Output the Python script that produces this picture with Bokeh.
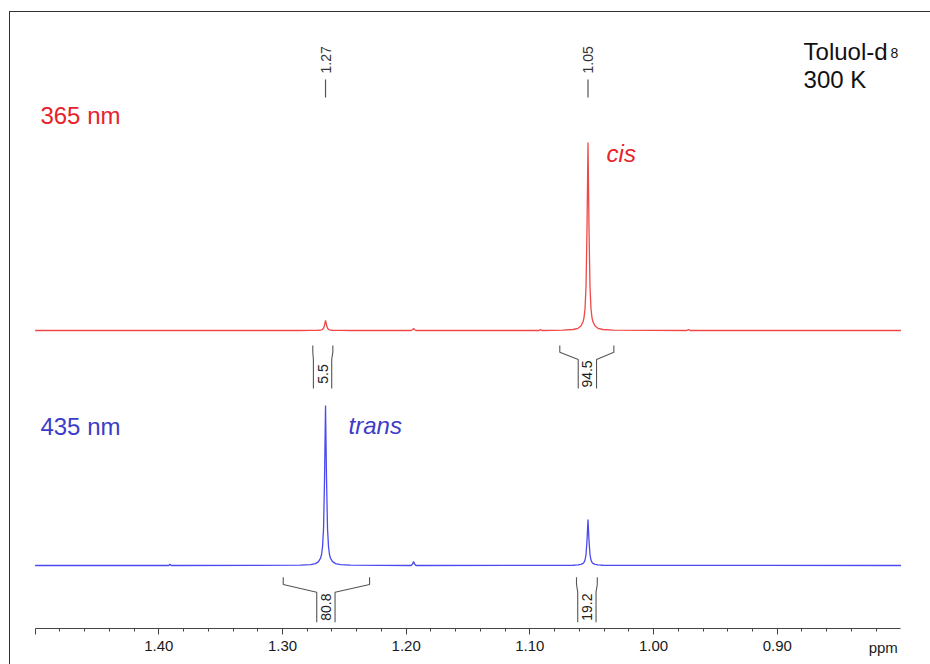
import numpy as np
from bokeh.plotting import figure
from bokeh.models import Range1d, FixedTicker
from bokeh.core.properties import value
from bokeh.embed import file_html
from bokeh.resources import INLINE

# ---------------- data ----------------
# chemical shift axis (ppm)
major_ticks = [1.50, 1.40, 1.30, 1.20, 1.10, 1.00, 0.90]
tick_labels = ["", "1.40", "1.30", "1.20", "1.10", "1.00", "0.90"]
minor_ticks = [1.48, 1.46, 1.44, 1.42, 1.38, 1.36, 1.34, 1.32, 1.28, 1.26, 1.24, 1.22,
               1.18, 1.16, 1.14, 1.12, 1.08, 1.06, 1.04, 1.02, 0.98, 0.96, 0.94, 0.92,
               0.88, 0.86, 0.84, 0.82]
axis_unit = "ppm"

# peak profile points (ppm) around the trans (1.27) and cis (1.05) signals
trans_ppm = [1.2854, 1.2773, 1.2733, 1.2709, 1.2692, 1.2684, 1.2676, 1.2668, 1.2660, 1.2652,
             1.2644, 1.2636, 1.2628, 1.2620, 1.2612, 1.2595, 1.2571, 1.2531, 1.2450]
cis_ppm = [1.0732, 1.0651, 1.0611, 1.0587, 1.0570, 1.0562, 1.0554, 1.0546, 1.0538, 1.0530,
           1.0522, 1.0514, 1.0506, 1.0498, 1.0490, 1.0473, 1.0449, 1.0409, 1.0328]

# 365 nm spectrum (red)
red_trans_int = [0, 0.1, 0.15, 0.25, 0.45, 0.7, 1.2, 2.3, 5.5, 10,
                 5.5, 2.3, 1.2, 0.7, 0.45, 0.25, 0.15, 0.1, 0]
red_cis_int = [0.4, 1.0, 2.2, 4.6, 8.7, 13, 22, 44, 103, 188,
               103, 44, 22, 13, 8.7, 4.6, 2.2, 1.0, 0.4]
red_other_ppm = [1.50, 1.1960, 1.1948, 1.1940, 1.1932, 1.1920, 1.0925, 1.0914, 1.0903,
                 0.9730, 0.9718, 0.9706, 0.80]
red_other_int = [0, 0, 0.8, 2.0, 0.8, 0, 0, 1.0, 0, 0, 1.0, 0, 0]

# 435 nm spectrum (blue)
blue_trans_int = [0.3, 0.85, 1.9, 3.9, 7.4, 11, 19, 37, 87, 160,
                  87, 37, 19, 11, 7.4, 3.9, 1.9, 0.85, 0.3]
blue_cis_int = [0.1, 0.25, 0.55, 1.1, 2.1, 3.2, 5.5, 11, 25, 46,
                25, 11, 5.5, 3.2, 2.1, 1.1, 0.55, 0.25, 0.1]
blue_other_ppm = [1.50, 1.3920, 1.3910, 1.3900, 1.1960, 1.1948, 1.1940, 1.1932, 1.1920, 0.80]
blue_other_int = [0, 0, 1.2, 0, 0, 1.5, 4.0, 1.5, 0, 0]

# peak picking labels
peak_ppm = [1.2652, 1.0530]
peak_labels = ["1.27", "1.05"]

# integrals
red_int_from = [1.2755, 1.0758]
red_int_to = [1.2593, 1.0321]
red_int_mid = [1.2676, 1.0535]
red_int_val = ["5.5", "94.5"]
blue_int_from = [1.2994, 1.0623]
blue_int_to = [1.2296, 1.0455]
blue_int_mid = [1.2649, 1.0539]
blue_int_val = ["80.8", "19.2"]

# ---------------- styles ----------------
FONT = "Liberation Sans"
RED_TXT = "#e8222c"
RED_LINE = "#f04848"
BLUE_TXT = "#3c3cc8"
BLUE_LINE = "#4a4af0"
DARK = "#333333"

RED_BASE = 298.0
BLUE_BASE = 63.0

p = figure(width=921, height=653, output_backend="svg", toolbar_location=None,
           x_range=Range1d(1.5207, 0.7761), y_range=Range1d(-36, 617),
           y_axis_location=None, min_border_left=0, min_border_right=0,
           min_border_top=0, min_border_bottom=0)
p.margin = (11, 0, 0, 9)
p.styles = {"box-shadow": "inset 1px 1px 0 0 #333"}
p.border_fill_color = None
p.background_fill_color = None
p.outline_line_color = None
p.xgrid.visible = False
p.ygrid.visible = False

ax = p.xaxis[0]
ax.fixed_location = 0
ax.ticker = FixedTicker(ticks=major_ticks, minor_ticks=minor_ticks)
ax.major_label_overrides = {t: l for t, l in zip(major_ticks, tick_labels)}
ax.bounds = (0.80, 1.50)
ax.axis_line_color = "#444444"
ax.major_tick_line_color = "#444444"
ax.minor_tick_line_color = "#444444"
ax.major_tick_in = 0
ax.major_tick_out = 6
ax.minor_tick_in = 0
ax.minor_tick_out = 3
ax.major_label_standoff = 6
ax.major_label_text_font = FONT
ax.major_label_text_font_size = "15px"
ax.major_label_text_color = "#1a1a1a"


def trace(ppm_parts, int_parts, base):
    x = np.concatenate([np.asarray(a, float) for a in ppm_parts])
    y = np.concatenate([np.asarray(a, float) for a in int_parts])
    order = np.argsort(-x)
    return x[order], y[order] + base


rx, ry = trace([trans_ppm, cis_ppm, red_other_ppm],
               [red_trans_int, red_cis_int, red_other_int], RED_BASE)
bx, by = trace([trans_ppm, cis_ppm, blue_other_ppm],
               [blue_trans_int, blue_cis_int, blue_other_int], BLUE_BASE)
p.line(rx, ry, line_color=RED_LINE, line_width=1.3)
p.line(bx, by, line_color=BLUE_LINE, line_width=1.3)

# peak labels
p.text(x=peak_ppm, y=[555] * len(peak_ppm), text=peak_labels, angle=np.pi / 2,
       text_align="left", text_baseline="middle", text_font=value(FONT),
       text_font_size="14px", text_color=DARK)
p.segment(x0=peak_ppm, y0=[531] * len(peak_ppm), x1=peak_ppm, y1=[549] * len(peak_ppm),
          line_color="#555555", line_width=1.2)

GAP = 0.0074


def integrals(lo, hi, mid, vals, top, drop, knee, bottom):
    xs, ys = [], []
    for a, b, m in zip(lo, hi, mid):
        xs.append([a, a, m + GAP, m + GAP])
        ys.append([top, drop, knee, bottom])
        xs.append([b, b, m - GAP, m - GAP])
        ys.append([top, drop, knee, bottom])
    p.multi_line(xs, ys, line_color="#555555", line_width=1.1)
    p.text(x=mid, y=[(knee + bottom) / 2] * len(mid), text=vals, angle=np.pi / 2,
           text_align="center", text_baseline="middle", text_font=value(FONT),
           text_font_size="14px", text_color="#222222")


integrals(red_int_from, red_int_to, red_int_mid, red_int_val, 283, 276.3, 269, 240)
integrals(blue_int_from, blue_int_to, blue_int_mid, blue_int_val, 51.3, 44, 36.3, 6.3)


# annotation texts
def txt(x, y, s, color, size="24px", style="normal", align="left", baseline="alphabetic"):
    p.text(x=[x], y=[y], text=[s], text_align=align, text_baseline=baseline,
           text_font=value(FONT), text_font_size=size, text_color=color,
           text_font_style=style)


txt(1.4957, 513, "365 nm", RED_TXT)
txt(1.4957, 202, "435 nm", BLUE_TXT)
txt(1.0380, 475, "cis", RED_TXT, style="italic")
txt(1.2466, 203, "trans", BLUE_TXT, style="italic")
txt(0.8787, 577, "Toluol-d", "#111111")
txt(0.8084, 576, "8", "#111111", size="14px")
txt(0.8787, 549, "300 K", "#111111")
txt(0.8143, -19, axis_unit, "#1a1a1a", size="15px", align="center", baseline="middle")

open("out.html", "w").write(file_html(p, INLINE))
